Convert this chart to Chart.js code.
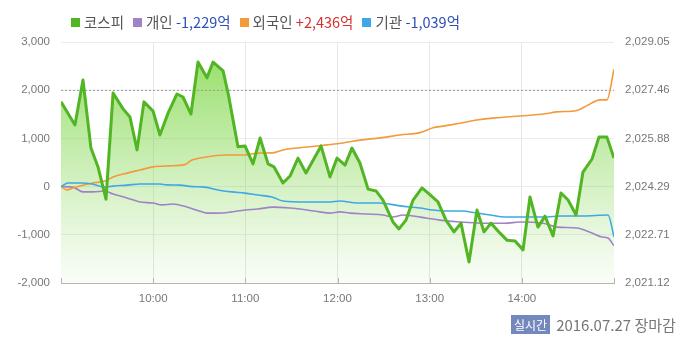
<!DOCTYPE html>
<html>
<head>
<meta charset="utf-8">
<script src="https://cdn.jsdelivr.net/npm/chart.js@4.4.1/dist/chart.umd.min.js"></script>
<style>
  html, body { margin: 0; padding: 0; background: #fff; }
  #wrap { position: relative; width: 700px; height: 350px; overflow: hidden; }
  #c { position: absolute; left: 0; top: 0; }
  #legend { position: absolute; left: 71px; top: 11px; font-family: "Noto Sans CJK KR", sans-serif; font-size: 14.5px; color: #555; white-space: nowrap; }
  #legend .item { display: inline-block; margin-right: 9px; }
  #legend .box { display: inline-block; width: 9px; height: 9px; margin-right: 4px; vertical-align: 1px; }
  #stamp { position: absolute; left: 511px; top: 314px; font-family: "Noto Sans CJK KR", sans-serif; font-size: 15px; color: #777; white-space: nowrap; }
  #stamp .badge { display: inline-block; background: #7488bd; color: #fff; font-size: 12px; padding: 0 3px; line-height: 19px; margin-right: 6px; vertical-align: 1px; }
</style>
</head>
<body>
<div id="wrap">
  <canvas id="c" width="700" height="350"></canvas>
  <div id="legend"></div>
  <div id="stamp"><span class="badge">실시간</span>2016.07.27 장마감</div>
</div>
<script>
// ---- data (minutes after 09:00) ----
const hourTicks = [60, 120, 180, 240, 300];
const hourLabels = ["10:00", "11:00", "12:00", "13:00", "14:00"];
const rightTicks = [2021.12, 2022.71, 2024.29, 2025.88, 2027.46, 2029.05];
const prevClose = 2027.46;

const seriesNames = ["코스피", "개인", "외국인", "기관"];
const seriesTotals = ["", "-1,229억", "+2,436억", "-1,039억"];

const kospiTimes = [0, 9.1, 14.3, 19.5, 24.1, 29.3, 33.9, 40.4, 44.9, 49.5, 54.0, 59.9, 64.4, 69.7, 75.5, 79.4, 84.6, 89.2, 95.0, 99.0, 105.5, 109.0, 115.2, 119.8, 125.0, 129.6, 134.8, 138.7, 144.5, 149.1, 154.3, 159.5, 169.3, 175.1, 179.7, 184.9, 189.4, 194.6, 199.9, 205.1, 209.6, 216.1, 220.0, 224.6, 229.2, 235.0, 239.6, 245.4, 250.6, 255.8, 260.4, 265.6, 270.8, 275.4, 279.9, 285.8, 290.3, 295.6, 300.8, 305.3, 310.5, 315.1, 320.3, 325.5, 330.1, 335.3, 339.8, 345.7, 350.2, 355.4, 360];
const kospiValues = [2027.08, 2026.32, 2027.80, 2025.56, 2024.94, 2023.88, 2027.37, 2026.85, 2026.58, 2025.50, 2027.08, 2026.78, 2025.99, 2026.71, 2027.34, 2027.24, 2026.68, 2028.39, 2027.87, 2028.39, 2028.10, 2027.31, 2025.60, 2025.63, 2025.04, 2025.89, 2025.04, 2024.94, 2024.41, 2024.64, 2025.23, 2024.74, 2025.63, 2024.61, 2025.23, 2025.00, 2025.56, 2025.07, 2024.21, 2024.15, 2023.85, 2023.13, 2022.90, 2023.19, 2023.85, 2024.25, 2024.05, 2023.79, 2023.19, 2022.80, 2023.09, 2021.81, 2023.52, 2022.80, 2023.09, 2022.76, 2022.53, 2022.50, 2022.21, 2023.95, 2022.96, 2023.32, 2022.67, 2024.08, 2023.85, 2023.36, 2024.77, 2025.20, 2025.92, 2025.92, 2025.23];

const retailTimes = [0, 7.8, 14.3, 20.8, 28.6, 33.9, 43.0, 51.4, 59.9, 65.8, 72.9, 82.0, 88.5, 95.0, 101.6, 110.0, 119.8, 128.2, 138.0, 149.1, 160.1, 168.6, 175.1, 181.6, 188.0, 199.2, 209.6, 216.1, 222.6, 229.2, 238.3, 246.7, 259.7, 270.8, 279.3, 289.0, 298.8, 313.8, 322.9, 335.9, 344.4, 352.2, 356.1, 360];
const retailValues = [0, -10, -110, -110, -90, -155, -235, -320, -340, -380, -360, -425, -490, -550, -550, -530, -485, -465, -425, -445, -485, -525, -550, -525, -550, -570, -590, -630, -590, -610, -655, -695, -735, -755, -760, -760, -735, -760, -840, -860, -945, -1045, -1065, -1229];

const foreignTimes = [0, 3.9, 7.8, 14.3, 20.8, 28.6, 33.9, 43.0, 51.4, 59.9, 70.0, 80.0, 85.3, 93.7, 106.8, 119.8, 128.2, 138.0, 144.5, 160.1, 173.2, 183.6, 194.6, 207.7, 220.7, 233.7, 242.2, 248.7, 259.7, 270.8, 282.5, 298.8, 315.1, 322.9, 335.9, 342.4, 350.9, 355.4, 360];
const foreignValues = [0, -70, -30, 30, 75, 115, 200, 280, 345, 410, 430, 450, 550, 610, 655, 655, 695, 700, 760, 820, 865, 905, 965, 1010, 1070, 1120, 1220, 1255, 1315, 1380, 1425, 1465, 1510, 1550, 1580, 1680, 1800, 1800, 2436];

const instTimes = [0, 4.6, 13.7, 20.2, 28.6, 33.9, 43.0, 51.4, 59.9, 64.4, 69.0, 77.5, 85.3, 93.7, 102.2, 111.3, 119.8, 128.2, 137.4, 144.5, 160.1, 175.1, 181.6, 192.7, 207.7, 220.7, 233.7, 242.2, 251.3, 261.1, 270.8, 279.3, 289.0, 298.8, 316.4, 324.8, 339.8, 356.1, 360];
const instValues = [0, 75, 75, 55, -10, 10, 30, 55, 55, 55, 35, 30, 0, -10, -70, -110, -135, -175, -215, -300, -320, -320, -300, -340, -340, -400, -445, -485, -505, -505, -550, -590, -630, -630, -630, -610, -610, -590, -1039];

const colors = ["#52b524", "#a083c6", "#f39a3a", "#3ea8e6"];
const totalColors = ["", "#2d4fb8", "#d6302c", "#2d4fb8"];

// ---- legend (html) ----
const legendEl = document.getElementById("legend");
seriesNames.forEach((n, i) => {
  const s = document.createElement("span");
  s.className = "item";
  s.innerHTML = '<span class="box" style="background:' + colors[i] + '"></span>' + n +
    (seriesTotals[i] ? ' <span style="color:' + totalColors[i] + '">' + seriesTotals[i] + '</span>' : '');
  legendEl.appendChild(s);
});

const pts = (t, v) => t.map((x, i) => ({ x: x, y: v[i] }));

const fillGrad = (ctx) => {
  const chart = ctx.chart;
  const ca = chart.chartArea;
  if (!ca) return "rgba(120,210,60,0.3)";
  const g = chart.ctx.createLinearGradient(0, ca.top, 0, ca.bottom);
  g.addColorStop(0, "rgba(115,212,50,0.78)");
  g.addColorStop(0.55, "rgba(130,215,80,0.38)");
  g.addColorStop(1, "rgba(150,220,110,0.05)");
  return g;
};

const tickFont = { family: "'Liberation Sans', Arial, sans-serif", size: 11.5 };

// small tick marks on the bottom axis, pointing up into the plot
const axisTicks = {
  id: "axisTicks",
  afterDatasetsDraw(chart) {
    const { ctx, chartArea, scales } = chart;
    ctx.save();
    ctx.strokeStyle = "#b5b5b5";
    ctx.lineWidth = 1;
    const xs = [0].concat(hourTicks, [360]);
    xs.forEach(v => {
      const px = Math.round(scales.x.getPixelForValue(v)) + 0.5;
      ctx.beginPath();
      ctx.moveTo(px, chartArea.bottom);
      ctx.lineTo(px, chartArea.bottom - 5);
      ctx.stroke();
    });
    ctx.restore();
  }
};

new Chart(document.getElementById("c"), {
  type: "line",
  data: {
    datasets: [
      { label: "prev", data: [{ x: 0, y: prevClose }, { x: 360, y: prevClose }], yAxisID: "y1",
        borderColor: "#9a9a9a", borderWidth: 1, borderDash: [2, 2], pointRadius: 0, fill: false, order: 5 },
      { label: seriesNames[0], data: pts(kospiTimes, kospiValues), yAxisID: "y1",
        borderColor: colors[0], borderWidth: 3, pointRadius: 0, tension: 0, fill: "start",
        backgroundColor: fillGrad, order: 0, borderJoinStyle: "round" },
      { label: seriesNames[1], data: pts(retailTimes, retailValues), yAxisID: "y",
        borderColor: colors[1], borderWidth: 1.6, pointRadius: 0, cubicInterpolationMode: "monotone", fill: false, order: 3 },
      { label: seriesNames[2], data: pts(foreignTimes, foreignValues), yAxisID: "y",
        borderColor: colors[2], borderWidth: 1.6, pointRadius: 0, cubicInterpolationMode: "monotone", fill: false, order: 2 },
      { label: seriesNames[3], data: pts(instTimes, instValues), yAxisID: "y",
        borderColor: colors[3], borderWidth: 1.6, pointRadius: 0, cubicInterpolationMode: "monotone", fill: false, order: 1 }
    ]
  },
  options: {
    responsive: false,
    animation: false,
    events: [],
    layout: { padding: { top: 42, left: 0, right: 0, bottom: 0 } },
    plugins: {
      legend: { display: false },
      tooltip: { enabled: false },
      filler: { drawTime: "beforeDatasetsDraw" }
    },
    scales: {
      x: {
        type: "linear", min: 0, max: 360,
        afterBuildTicks: (s) => { s.ticks = hourTicks.map(v => ({ value: v })); },
        afterFit: (s) => { s.height = 67; },
        ticks: { color: "#777", font: tickFont, padding: 9, maxRotation: 0, autoSkip: false,
          callback: (v) => hourLabels[hourTicks.indexOf(v)] },
        grid: { color: "#e6e6e6", drawTicks: false },
        border: { display: true, color: "#b5b5b5" }
      },
      y: {
        position: "left", min: -2000, max: 3000,
        afterFit: (s) => { s.width = 61; },
        ticks: { stepSize: 1000, color: "#777", font: tickFont, padding: 11,
          callback: (v) => v.toLocaleString("en-US") },
        grid: { color: "#ebebeb", drawTicks: false },
        border: { display: false }
      },
      y1: {
        position: "right", min: 2021.12, max: 2029.05,
        afterBuildTicks: (s) => { s.ticks = rightTicks.map(v => ({ value: v })); },
        afterFit: (s) => { s.width = 86; },
        ticks: { color: "#777", font: tickFont, padding: 11,
          callback: (v) => v.toLocaleString("en-US", { minimumFractionDigits: 2, maximumFractionDigits: 2 }) },
        grid: { display: false, drawTicks: false },
        border: { display: false }
      }
    }
  },
  plugins: [axisTicks]
});
</script>
</body>
</html>
